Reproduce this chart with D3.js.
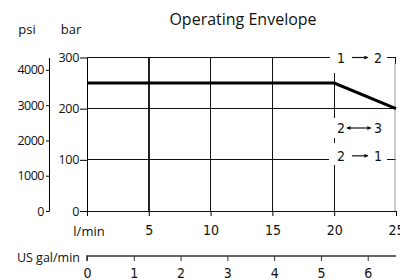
<!DOCTYPE html>
<html>
<head>
<meta charset="utf-8">
<script src="https://cdn.jsdelivr.net/npm/d3@7"></script>
<style>
  body { margin: 0; background: #fff; }
  svg { display: block; }
  .lbl { font-family: 'Open Sans', sans-serif; fill: #111; }
  .num { font-family: 'Liberation Sans Narrow', 'DejaVu Sans Condensed', sans-serif; fill: #111; }
</style>
</head>
<body>
<svg width="400" height="280"></svg>
<script>
const flowTicks = [0, 5, 10, 15, 20, 25]
const barTicks = [0, 100, 200, 300]
const psiTicks = [0, 1000, 2000, 3000, 4000]
const galTicks = [0, 1, 2, 3, 4, 5, 6]
const envFlow = [0, 20, 25]
const envBar = [250, 250, 200]
const modeFrom = ['1', '2', '2']
const modeTo = ['2', '3', '1']
const modeBoth = [false, true, false]

const PSI_PER_BAR = 14.5038
const L_PER_GAL = 3.78541

const svg = d3.select('svg')
const x = d3.scaleLinear().domain([0, 25]).range([87, 396])
const y = d3.scaleLinear().domain([0, 300]).range([211, 57.5])
const yPsi = d3.scaleLinear().domain([0, 300 * PSI_PER_BAR]).range([211, 57.5])
const xGal = d3.scaleLinear().domain([0, 25 / L_PER_GAL]).range([87, 396])

// arrow heads
const defs = svg.append('defs')
defs.append('marker')
  .attr('id', 'ah')
  .attr('viewBox', '0 0 10 10')
  .attr('refX', 9).attr('refY', 5)
  .attr('markerWidth', 6).attr('markerHeight', 4)
  .attr('markerUnits', 'userSpaceOnUse')
  .attr('orient', 'auto-start-reverse')
  .append('path').attr('d', 'M0,0L10,5L0,10z').attr('fill', '#111')

// title
svg.append('text').attr('class', 'lbl')
  .attr('x', 243).attr('y', 25)
  .attr('text-anchor', 'middle')
  .style('font-size', '16px')
  .text('Operating Envelope')

svg.append('text').attr('class', 'lbl').attr('x', 27).attr('y', 34)
  .attr('text-anchor', 'middle').style('font-size', '13px').text('psi')
svg.append('text').attr('class', 'lbl').attr('x', 71).attr('y', 34)
  .attr('text-anchor', 'middle').style('font-size', '13px').text('bar')

// grid
const grid = svg.append('g').attr('stroke', '#111').attr('fill', 'none')
grid.selectAll('.hg')
  .data([200])
  .join('line')
  .attr('x1', x(0)).attr('x2', x(25))
  .attr('y1', (d) => y(d)).attr('y2', (d) => y(d))
// 300 and 100 lines are broken by labels
grid.append('path').attr('d', `M${x(0)},${y(300)}H${x(19.7)}M${x(24.25)},${y(300)}H${x(25) - 1}v6`)
grid.append('path').attr('d', `M${x(0)},${y(100)}H${x(19.6)}M${x(24.3)},${y(100)}H${x(25)}`)
grid.append('line')
  .attr('x1', x(0)).attr('x2', x(25))
  .attr('y1', y(0)).attr('y2', y(0))

grid.selectAll('.vg')
  .data([5, 10, 15])
  .join('line')
  .attr('x1', (d) => x(d)).attr('x2', (d) => x(d))
  .attr('y1', y(300)).attr('y2', y(0))
  .attr('stroke-width', (d) => d === 5 ? 2 : 1)
  .attr('stroke', (d) => d === 5 ? '#222' : '#111')

// flow 20 line broken by labels
const seg20 = [[270, 182], [143, 133], [90, 0]]
grid.selectAll('.v20')
  .data(seg20)
  .join('line')
  .attr('x1', x(20)).attr('x2', x(20))
  .attr('y1', (d) => y(d[0])).attr('y2', (d) => y(d[1]))

// right border
svg.append('line')
  .attr('x1', x(25) - 1).attr('x2', x(25) - 1)
  .attr('y1', y(300) + 6).attr('y2', y(0))
  .attr('stroke', '#999')

grid.selectAll('line, path').attr('shape-rendering', 'crispEdges')

// envelope
const env = envFlow.map((f, i) => [f, envBar[i]])
svg.append('path')
  .datum(env)
  .attr('fill', 'none')
  .attr('stroke', '#000')
  .attr('stroke-width', 3)
  .attr('d', d3.line().x((d) => x(d[0])).y((d) => y(d[1])))

// bar axis
const barAxis = svg.append('g')
  .attr('transform', `translate(${x(0)},0)`)
  .call(d3.axisLeft(y).tickValues(barTicks).tickSize(7).tickSizeOuter(0).tickPadding(1))
barAxis.selectAll('text').attr('class', 'lbl').style('font-size', '12.5px').attr('letter-spacing', '-0.3')

// psi axis
const psiAxis = svg.append('g')
  .attr('transform', 'translate(49,0)')
  .call(d3.axisLeft(yPsi).tickValues(psiTicks).tickFormat(d3.format('d'))
    .tickSize(3).tickSizeOuter(0).tickPadding(2))
psiAxis.selectAll('text').attr('class', 'lbl').style('font-size', '12.5px').attr('letter-spacing', '-0.5')

// flow axis (origin label replaced by unit)
const flowAxis = svg.append('g')
  .attr('transform', `translate(0,${y(0)})`)
  .call(d3.axisBottom(x).tickValues(flowTicks).tickFormat((d) => d === 0 ? '' : d)
    .tickSize(5).tickSizeOuter(0).tickPadding(9))
flowAxis.select('.domain').remove()
flowAxis.selectAll('text').attr('class', 'num').style('font-size', '14px')

svg.append('text').attr('class', 'lbl').attr('x', 89).attr('y', 236)
  .attr('text-anchor', 'middle').style('font-size', '13px').text('l/min')

// gal axis
const galAxis = svg.append('g')
  .attr('transform', 'translate(0,256)')
  .call(d3.axisBottom(xGal).tickValues(galTicks).tickFormat(d3.format('d'))
    .tickSize(5).tickSizeOuter(0).tickPadding(7))
galAxis.select('.domain').attr('stroke', '#666').attr('stroke-width', 2)
  .attr('d', `M${x(0)},5V0H${x(25)}`)
galAxis.selectAll('.tick line').attr('stroke', '#333')
galAxis.selectAll('text').attr('class', 'num').style('font-size', '14px')

svg.append('text').attr('class', 'lbl').attr('x', 80).attr('y', 262)
  .attr('text-anchor', 'end').style('font-size', '12.5px').text('US gal/min')

// mode labels
const modeY = [y(300), 128, y(100) - 4]
const cx = x(22)
const modes = svg.append('g').selectAll('g')
  .data(modeFrom.map((f, i) => ({ from: f, to: modeTo[i], both: modeBoth[i], yy: modeY[i] })))
  .join('g')
  .attr('transform', (d) => `translate(${cx},${d.yy})`)
modes.append('text').attr('class', 'num').attr('x', -18).attr('y', 5)
  .attr('text-anchor', 'middle').style('font-size', '14px').text((d) => d.from)
modes.append('text').attr('class', 'num').attr('x', 19).attr('y', 5)
  .attr('text-anchor', 'middle').style('font-size', '14px').text((d) => d.to)
modes.append('line')
  .attr('x1', (d) => d.both ? -12 : -7)
  .attr('x2', (d) => d.both ? 12 : 9)
  .attr('y1', 0).attr('y2', 0)
  .attr('stroke', '#111').attr('stroke-width', 1.2)
  .attr('marker-end', 'url(#ah)')
  .attr('marker-start', (d) => d.both ? 'url(#ah)' : null)
</script>
</body>
</html>
